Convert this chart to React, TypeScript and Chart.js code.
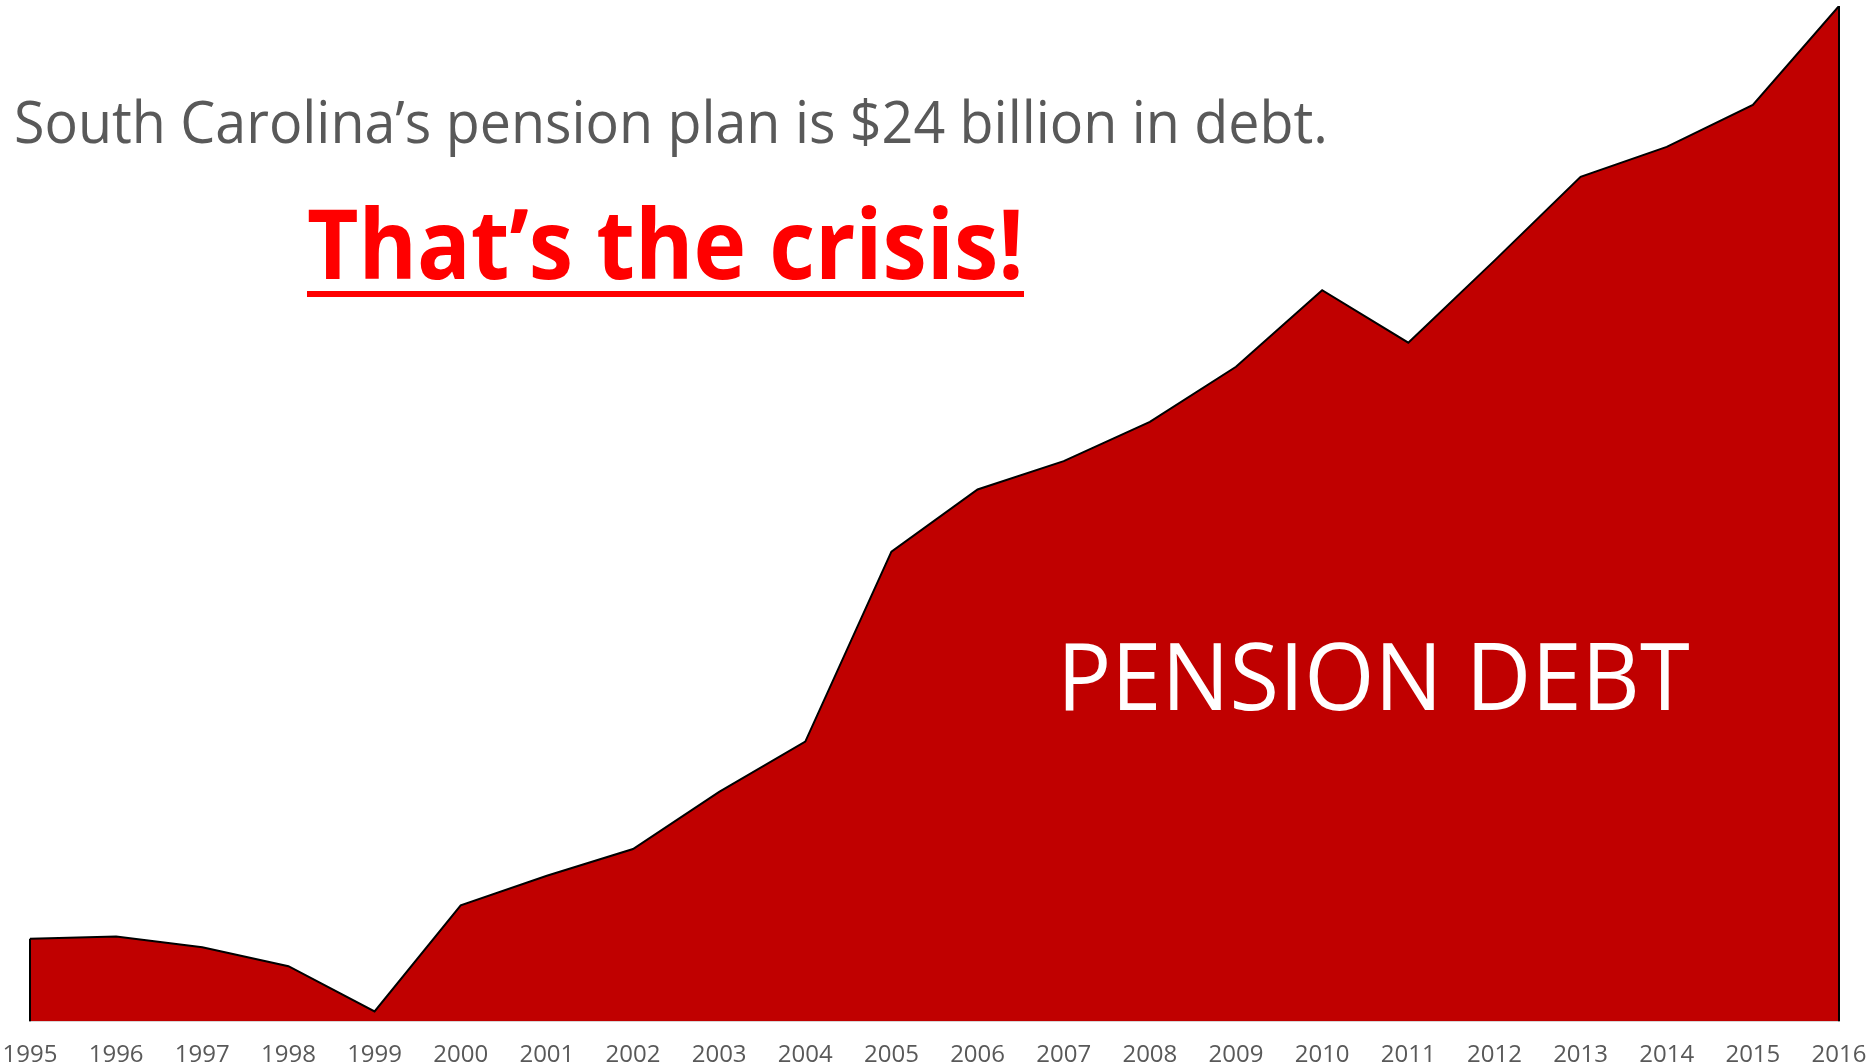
import React, { useEffect, useLayoutEffect, useRef, useState } from "react";
import { Chart, registerables } from "chart.js";

Chart.register(...registerables);

const years = [
  "1995", "1996", "1997", "1998", "1999", "2000", "2001", "2002", "2003", "2004", "2005",
  "2006", "2007", "2008", "2009", "2010", "2011", "2012", "2013", "2014", "2015", "2016",
];
// Pension debt, $ billions
const pensionDebt = [
  1.95, 2.0, 1.75, 1.3, 0.23, 2.74, 3.44, 4.07, 5.42, 6.61, 11.1,
  12.57, 13.24, 14.17, 15.47, 17.28, 16.04, 17.98, 19.96, 20.67, 21.66, 24.0,
];
const headline = "South Carolina\u2019s pension plan is $24 billion in debt.";
const crisisText = "That\u2019s the crisis!";
const areaLabel = "PENSION DEBT";

const FONT = "'Open Sans', 'Noto Sans', sans-serif";

function FitText(props: {
  text: string;
  left: number;
  top: number;
  size: number;
  width: number;
  color: string;
  weight: number;
}) {
  const ref = useRef<HTMLSpanElement | null>(null);
  const [sx, setSx] = useState(1);
  useLayoutEffect(() => {
    if (ref.current) {
      const w = ref.current.offsetWidth;
      if (w > 0) setSx(props.width / w);
    }
  }, [props.text, props.width, props.size]);
  return (
    <span
      ref={ref}
      style={{
        position: "absolute",
        left: props.left,
        top: props.top,
        fontFamily: FONT,
        fontSize: props.size,
        fontWeight: props.weight,
        lineHeight: 1,
        color: props.color,
        whiteSpace: "nowrap",
        transform: `scaleX(${sx})`,
        transformOrigin: "left top",
        zIndex: 2,
      }}
    >
      {props.text}
    </span>
  );
}

const edgePlugin = {
  id: "edgeLines",
  afterDatasetsDraw(chart: any) {
    const meta = chart.getDatasetMeta(0);
    const pts = meta.data;
    if (!pts || pts.length === 0) return;
    const base = chart.scales.y.getPixelForValue(0);
    const ctx = chart.ctx;
    ctx.save();
    ctx.strokeStyle = "#000000";
    ctx.lineWidth = 2;
    ctx.beginPath();
    ctx.moveTo(pts[0].x, pts[0].y);
    ctx.lineTo(pts[0].x, base);
    const last = pts[pts.length - 1];
    ctx.moveTo(last.x, last.y);
    ctx.lineTo(last.x, base);
    ctx.stroke();
    ctx.restore();
  },
};

export default function App() {
  const canvasRef = useRef<HTMLCanvasElement | null>(null);

  useEffect(() => {
    document.body.style.margin = "0";
    if (!canvasRef.current) return;
    const chart = new Chart(canvasRef.current, {
      type: "line",
      data: {
        labels: years,
        datasets: [
          {
            data: pensionDebt,
            fill: "origin",
            backgroundColor: "#C00000",
            borderColor: "#000000",
            borderWidth: 2,
            pointRadius: 0,
            tension: 0,
          },
        ],
      },
      options: {
        animation: false,
        responsive: true,
        maintainAspectRatio: false,
        layout: { padding: { left: 30, right: 34, top: 6, bottom: -26 } },
        plugins: {
          legend: { display: false },
          tooltip: { enabled: false },
        },
        scales: {
          x: {
            offset: false,
            grid: { display: false, drawTicks: false },
            border: { display: true, color: "#D9D9D9", width: 2 },
            afterFit: (scale: any) => {
              scale.paddingLeft = 0;
              scale.paddingRight = 0;
            },
            ticks: {
              color: "#595959",
              font: { family: FONT, size: 24 },
              padding: 20,
              maxRotation: 0,
              autoSkip: false,
            },
          },
          y: {
            display: false,
            min: 0,
            max: 24,
          },
        },
      },
      plugins: [edgePlugin],
    });
    return () => chart.destroy();
  }, []);

  return (
    <div style={{ position: "fixed", left: 0, top: 0, width: 1873, height: 1064, background: "#fff" }}>
      <canvas ref={canvasRef} style={{ position: "absolute", left: 0, top: 0 }} />
      <FitText text={headline} left={14} top={91} size={59} width={1314} color="#595959" weight={400} />
      <FitText text={crisisText} left={307} top={194} size={96} width={717} color="#FF0000" weight={700} />
      <div style={{ position: "absolute", left: 307, top: 291, width: 717, height: 6, background: "#FF0000", zIndex: 2 }} />
      <FitText text={areaLabel} left={1057} top={627} size={94} width={633} color="#FFFFFF" weight={400} />
    </div>
  );
}
